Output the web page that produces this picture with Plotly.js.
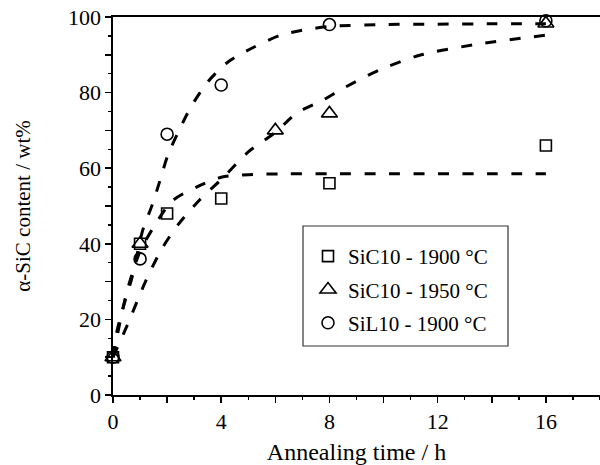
<!DOCTYPE html>
<html>
<head>
<meta charset="utf-8">
<script src="https://cdn.plot.ly/plotly-3.0.1.min.js"></script>
<style>html,body{margin:0;padding:0;background:#fff;}#chart{width:600px;height:465px;}</style>
</head>
<body>
<div id="chart"></div>
<script>
// Measured data
const seriesNames = ['SiC10 - 1900 °C', 'SiC10 - 1950 °C', 'SiL10 - 1900 °C'];
const sic1900X = [0, 1, 2, 4, 8, 16];
const sic1900Y = [10, 40, 48, 52, 56, 66];
const sic1950X = [0, 1, 6, 8, 16];
const sic1950Y = [10, 40, 70, 74.5, 98.3];
const sil1900X = [0, 1, 2, 4, 8, 16];
const sil1900Y = [10, 36, 69, 82, 98, 99];

// Fitted (dashed) curves
const fitSic1900X = [0, 0.25, 0.5, 0.75, 1, 1.5, 2.2, 3.2, 4, 5, 6.5, 8, 10, 12, 14, 16];
const fitSic1900Y = [10, 19, 27, 33, 38, 44.4, 51.4, 55.4, 57.6, 58.3, 58.5, 58.5, 58.5, 58.5, 58.5, 58.5];
const fitSic1950X = [0, 0.5, 1.2, 1.8, 2.4, 3.2, 4, 5, 6, 6.8, 7.75, 8.6, 9.85, 11.4, 13.3, 16];
const fitSic1950Y = [10, 18, 30, 38.6, 45, 51.6, 57, 64.3, 69.5, 74.6, 78, 81.5, 86, 90, 92.6, 95.2];
const fitSil1900X = [0, 0.15, 0.45, 0.7, 1.1, 1.45, 1.73, 2.03, 2.43, 2.88, 3.5, 4.25, 5.2, 6.2, 7, 8, 10, 12, 14, 16];
const fitSil1900Y = [10, 17, 25, 31, 43.6, 50.3, 56.6, 63.5, 69.8, 76.2, 82.8, 88.1, 92, 95.2, 96.5, 97.5, 98, 98.1, 98.2, 98.2];

const xTickVals = [0, 2, 4, 6, 8, 10, 12, 14, 16];
const xTickText = ['0', '', '4', '', '8', '', '12', '', '16'];
const yTickVals = [0, 10, 20, 30, 40, 50, 60, 70, 80, 90, 100];
const yTickText = ['0', '', '20', '', '40', '', '60', '', '80', '', '100'];

const FONT = 'Liberation Serif, Times New Roman, serif';
const dashStyle = {color: 'black', width: 3, dash: '11px,13.5px', shape: 'spline', smoothing: 0.8};

function fit(x, y) {
  return {x: x, y: y, mode: 'lines', line: dashStyle, showlegend: false, hoverinfo: 'skip'};
}
function pts(x, y, name, symbol, size, group) {
  return {x: x, y: y, mode: 'markers', name: name, legendgroup: group, cliponaxis: false,
    marker: {symbol: symbol, size: size, color: 'black', line: {color: 'black', width: 1.6}}};
}

const data = [
  fit(fitSic1900X, fitSic1900Y),
  fit(fitSic1950X, fitSic1950Y),
  fit(fitSil1900X, fitSil1900Y),
  pts(sic1900X, sic1900Y, seriesNames[0], 'square-open', 11, 'a'),
  pts(sic1950X, sic1950Y, seriesNames[1], 'triangle-up-open', 14, 'b'),
  pts(sil1900X, sil1900Y, seriesNames[2], 'circle-open', 12, 'c')
];

// plot area in px: x 113..600, y 17..395
const px = v => (v - 113) / 487;
const py = v => (395 - v) / 378;

const layout = {
  width: 600, height: 465,
  margin: {l: 113, r: 0, t: 17, b: 70},
  paper_bgcolor: 'white', plot_bgcolor: 'white',
  font: {family: FONT, size: 21, color: 'black'},
  showlegend: true,
  legend: {
    x: px(308), y: py(236), xanchor: 'left', yanchor: 'top',
    borderwidth: 0, bgcolor: 'rgba(0,0,0,0)',
    font: {family: FONT, size: 21, color: 'black'},
    traceorder: 'grouped', tracegroupgap: 3, itemwidth: 30
  },
  shapes: [{
    type: 'rect', xref: 'paper', yref: 'paper',
    x0: px(303), x1: px(508), y0: py(346), y1: py(226),
    line: {color: '#333', width: 1.2}, fillcolor: 'rgba(0,0,0,0)', layer: 'below'
  }],
  xaxis: {
    range: [0, 18], showgrid: false, zeroline: false,
    showline: true, linecolor: 'black', linewidth: 1.6, mirror: true,
    ticks: 'outside', ticklen: 6, tickwidth: 1.5, tickcolor: 'black',
    tickmode: 'array', tickvals: xTickVals, ticktext: xTickText,
    minor: {dtick: 1, ticks: 'outside', ticklen: 3.5, tickwidth: 1.5, tickcolor: 'black', showgrid: false},
    tickfont: {family: FONT, size: 22},
    title: {text: 'Annealing time / h', font: {family: FONT, size: 24}, standoff: 12}
  },
  yaxis: {
    range: [0, 100], showgrid: false, zeroline: false,
    showline: true, linecolor: 'black', linewidth: 1.6,
    ticks: 'outside', ticklen: 6, tickwidth: 1.5, tickcolor: 'black',
    tickmode: 'array', tickvals: yTickVals, ticktext: yTickText,
    minor: {dtick: 5, ticks: 'outside', ticklen: 3.5, tickwidth: 1.5, tickcolor: 'black', showgrid: false},
    tickfont: {family: FONT, size: 22},
    title: {text: 'α-SiC content / wt%', font: {family: FONT, size: 21}, standoff: 31}
  }
};

Plotly.newPlot('chart', data, layout, {displayModeBar: false, staticPlot: true});
</script>
</body>
</html>
